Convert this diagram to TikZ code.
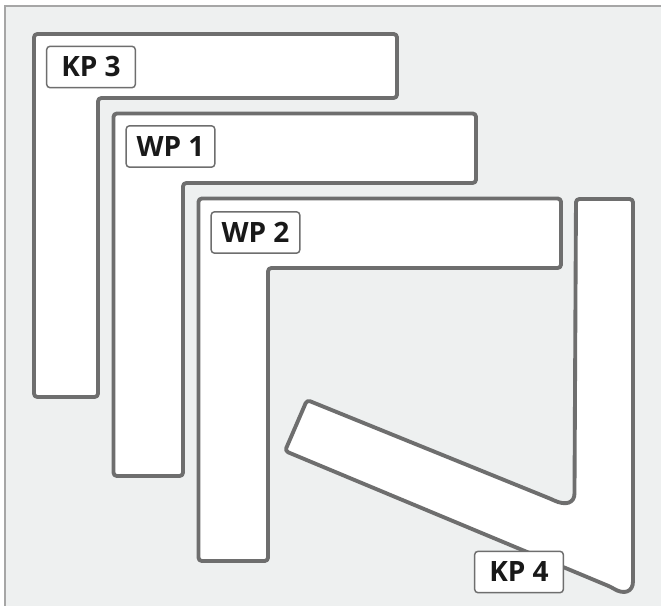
\documentclass[tikz,border=0pt]{standalone}
\usepackage{fontspec}
\setmainfont{Open Sans}
\definecolor{panelbg}{HTML}{EEF0F0}
\definecolor{edge}{HTML}{6E6E6E}
\tikzset{
  x=0.75pt,y=-0.75pt,
  shapeoutline/.style={draw=edge,line width=2.9pt,fill=white,rounded corners=2.5pt,line join=round},
  tag/.style={draw=edge,line width=1.1pt,fill=white,rounded corners=2.5pt,minimum width=66.5pt,minimum height=31pt,inner sep=0pt,font=\fontsize{21}{24}\selectfont\bfseries,text=black!90},
}
\begin{document}
\begin{tikzpicture}
\useasboundingbox (0,0) rectangle (661,606);
\fill[white] (0,0) rectangle (661,606);
\draw[fill=panelbg,draw=black!35,line width=1.2pt] (5,620) -- (5,6) -- (675,6) -- (675,620) -- cycle;
\draw[shapeoutline] (34,34) -- (397,34) -- (397,98) -- (98,98) -- (98,397) -- (34,397) -- cycle;
\draw[shapeoutline] (113.5,113.5) -- (476,113.5) -- (476,183) -- (183,183) -- (183,476) -- (113.5,476) -- cycle;
\draw[shapeoutline] (198.5,198.5) -- (561,198.5) -- (561,268) -- (268,268) -- (268,561) -- (198.5,561) -- cycle;
\draw[shapeoutline] (576,199) -- (633,199) -- (633,578) .. controls (633,592) and (624,595) .. (611,587) -- (285,451) -- (307,400) -- (551,499) .. controls (566,506) and (574.5,503) .. (574.5,490) -- cycle;
\node[tag] (kp3) at (91,67) {KP 3};
\node[tag] (wp1) at (170.5,146.5) {WP 1};
\node[tag] (wp2) at (255.5,232.5) {WP 2};
\node[tag] (kp4) at (519,572) {KP 4};
\end{tikzpicture}
\end{document}
